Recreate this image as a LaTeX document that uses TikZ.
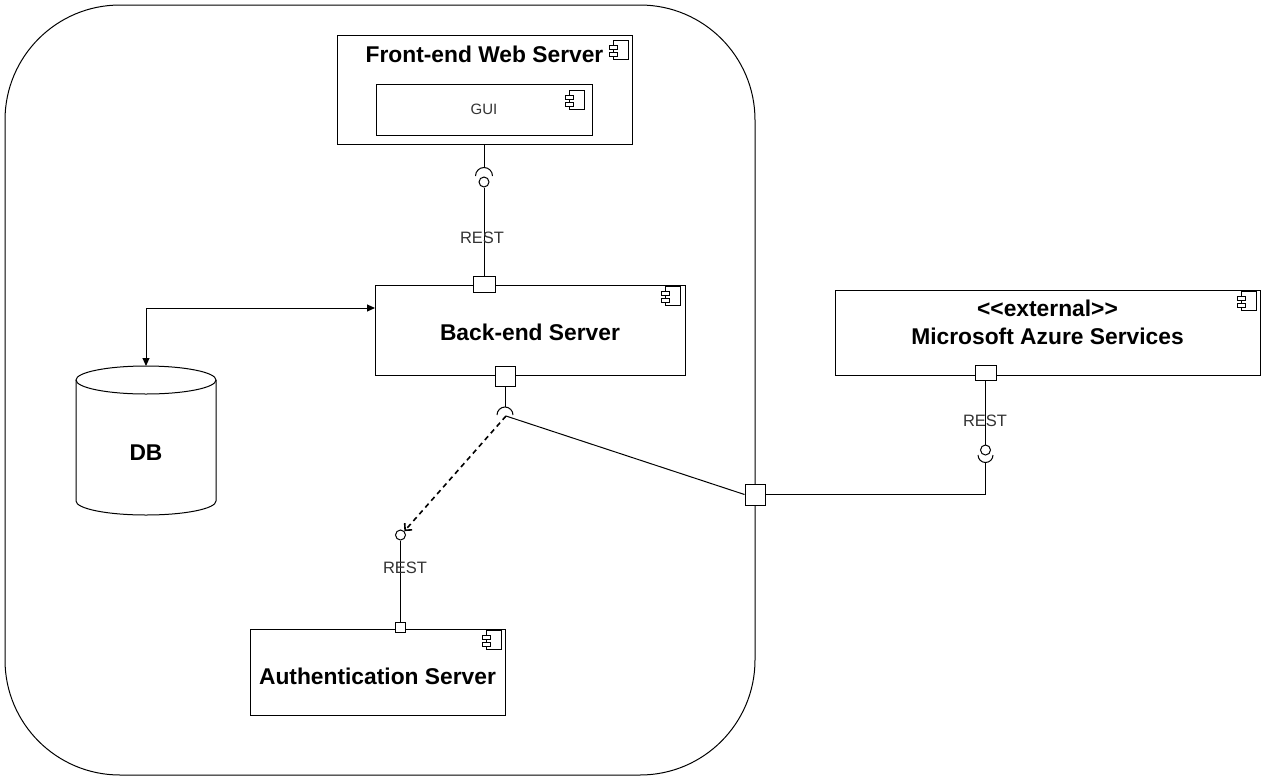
\documentclass[tikz,border=0pt]{standalone}
\usepackage{fontspec}
\setmainfont{Liberation Sans}
\usetikzlibrary{arrows.meta}
\begin{document}
\begin{tikzpicture}[x=1pt,y=-1pt,line width=1pt,
  comp/.style={draw,fill=white,inner sep=0pt},
  boldlbl/.style={font=\fontsize{22.8}{28}\selectfont\bfseries},
  small/.style={font=\fontsize{16.5}{18}\selectfont,text=black!80},
  port/.style={draw,fill=white,inner sep=0pt},
  ball/.style={circle,draw,fill=white,minimum size=10pt,inner sep=0pt},
  compicon/.pic={
    \draw[fill=white,line width=0.9pt] (-15,0) rectangle (0,19);
    \draw[fill=white,line width=0.9pt] (-19,5) rectangle (-11,9);
    \draw[fill=white,line width=0.9pt] (-19,12) rectangle (-11,16);
  }]
\useasboundingbox (0,0) rectangle (1267,782);
% boundary
\draw[rounded corners=115] (5,5) rectangle (755,775);

% front-end
\node[comp,minimum width=295pt,minimum height=109pt] (fe) at (484.5,89.5) {};
\node[boldlbl] (fet) at (484.5,54) {Front-end Web Server};
\pic at (fe.north east) [xshift=-4pt,yshift=-6pt] {compicon};
\node[comp,small,font=\fontsize{15}{18}\selectfont,minimum width=216pt,minimum height=51pt] (gui) at (484,109.5) {GUI};
\pic at (gui.north east) [xshift=-8pt,yshift=-7pt] {compicon};

% back-end
\node[comp,minimum width=310pt,minimum height=90pt] (be) at (530,330) {};
\node[boldlbl] (bet) at (530,332) {Back-end Server};
\pic at (be.north east) [xshift=-5pt,yshift=-2pt] {compicon};

% azure
\node[comp,minimum width=425pt,minimum height=85pt] (az) at (1047.5,332.5) {};
\node[boldlbl,align=center] (azt) at (1047.5,322) {<\kern0pt<external>\kern0pt>\\Microsoft Azure Services};
\pic at (az.north east) [xshift=-4pt,yshift=-2pt] {compicon};

% auth
\node[comp,minimum width=255pt,minimum height=86pt] (auth) at (377.5,672) {};
\node[boldlbl] (autht) at (377.5,676) {Authentication Server};
\pic at (auth.north east) [xshift=-4pt,yshift=-2pt] {compicon};

% DB cylinder
\draw[fill=white] (76,380) -- (76,501) arc[start angle=180,end angle=0,x radius=70,y radius=14] -- (216,380);
\draw (146,380) ellipse [x radius=70,y radius=14];
\node[boldlbl] (db) at (146,453) {DB};
\coordinate (dbtop) at (146,366);
\coordinate (bein) at (375,308);
\draw[{Triangle[length=8pt,width=7pt]}-{Triangle[length=8pt,width=7pt]}] (dbtop) |- (bein);

% front-end to back-end interface
\coordinate (fesock) at (484,167.5);
\draw (fe.south -| fesock) -- (fesock);
\draw (475.5,176) arc[start angle=180,end angle=360,radius=8.5];
\node[ball] (feball) at (484,182) {};
\node[port,minimum width=22pt,minimum height=16pt] (p1) at (484,284) {};
\draw (feball.south) -- (p1.north);
\node[small] (rest1) at (482,238) {REST};

% back-end bottom port
\node[port,minimum width=20pt,minimum height=20pt] (p2) at (505,376) {};
\coordinate (besock) at (505,407);
\draw (p2.south) -- (besock);
\draw (497,415) arc[start angle=180,end angle=360,radius=8];
\coordinate (behub) at (506,416);

% auth interface
\node[ball] (authball) at (400.5,535) {};
\node[port,minimum width=10pt,minimum height=10pt] (p3) at (400.5,627) {};
\draw (authball.south) -- (p3.north);
\node[small] (rest2) at (405,568) {REST};
\draw[line width=1.6pt,dash pattern=on 5pt off 4pt,-{Straight Barb[length=5pt,width=10pt]}] (behub) -- (authball.north east);

% boundary port
\node[port,minimum width=20pt,minimum height=21pt] (bport) at (755,494.5) {};
\draw (behub) -- (bport.west);

% azure interface
\node[port,minimum width=21pt,minimum height=15pt] (p4) at (985.5,373) {};
\node[ball] (azball) at (985.5,450) {};
\draw (azball.north) -- (p4.south);
\node[small] (rest3) at (985,421) {REST};
\draw (978,455) arc[start angle=180,end angle=0,radius=7.5];
\coordinate (azsock) at (985.5,462.5);
\draw (bport.east) -| (azsock);
\end{tikzpicture}
\end{document}
